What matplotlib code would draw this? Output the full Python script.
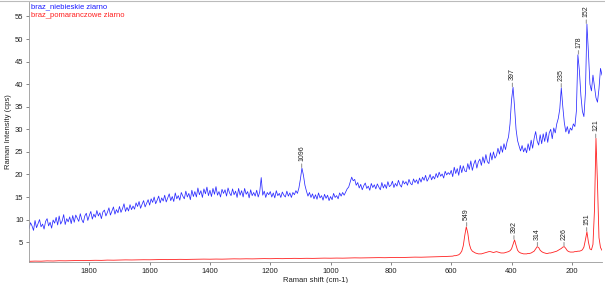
import numpy as np
import matplotlib
matplotlib.use("Agg")
import matplotlib.pyplot as plt

plt.rcParams['font.family'] = ['Liberation Sans', 'DejaVu Sans']

# ---------------- data ----------------
# blue spectrum, 2000 -> 605 cm-1, step 5
blue_x_coarse = np.arange(2000, 600, -5)
blue_y_coarse = [
    8.0, 9.3, 8.6, 7.6, 9.8, 8.2, 9.1, 10.0, 8.4, 9.0,
    7.9, 9.6, 10.2, 8.6, 9.4, 8.1, 9.9, 9.2, 10.5, 8.8,
    10.8, 9.0, 9.7, 11.1, 8.9, 10.2, 9.5, 10.6, 9.1, 10.9,
    9.4, 11.0, 10.3, 9.6, 11.3, 10.0, 9.3, 10.8, 11.4, 9.8,
    10.9, 11.8, 10.1, 11.2, 10.5, 12.0, 10.8, 11.5, 10.2, 11.7,
    12.1, 10.8, 11.6, 12.6, 11.0, 11.9, 12.8, 11.2, 12.2, 11.5,
    12.9, 11.6, 12.4, 13.5, 11.8, 12.7, 11.9, 13.3, 12.2, 13.0,
    12.3, 13.7, 12.9, 14.0, 12.5, 13.4, 14.2, 12.8, 13.6, 14.4,
    13.2, 14.6, 13.8, 15.0, 13.5, 14.3, 15.2, 13.7, 14.8, 14.1,
    15.4, 13.9, 14.8, 15.7, 14.2, 15.1, 14.0, 15.9, 14.6, 15.3,
    14.3, 16.0, 15.2, 14.6, 16.3, 15.0, 15.8, 14.4, 16.5, 15.1,
    16.2, 15.0, 17.0, 15.5, 16.4, 14.9, 16.8, 15.7, 17.2, 15.3,
    16.5, 15.1, 16.9, 15.6, 17.3, 15.4, 16.2, 15.0, 16.7, 15.8,
    16.6, 15.2, 17.0, 15.9, 15.3, 16.8, 15.5, 16.3, 14.9, 16.9,
    15.4, 16.4, 15.0, 16.9, 15.6, 16.2, 14.8, 16.6, 15.3, 16.0,
    15.2, 16.5, 15.0, 16.1, 19.3, 15.4, 16.3, 14.9, 16.0, 15.5,
    16.2, 15.0, 15.9, 14.8, 16.4, 15.3, 15.8, 14.9, 16.1, 15.4,
    15.0, 16.3, 15.2, 15.9, 14.9, 16.0, 15.5, 16.4, 15.8, 17.0,
    19.0, 21.4, 19.8, 17.6, 16.3, 15.2, 16.0, 14.9, 15.7, 14.6,
    15.5, 14.5, 15.9, 14.8, 15.3, 14.3, 15.6, 14.7, 15.4, 14.2,
    15.1, 14.4, 15.8, 14.9, 15.3, 14.6, 15.9, 15.2, 16.0, 15.4,
    16.1, 16.8, 17.2, 18.3, 19.4, 18.6, 18.9, 17.6, 18.2, 17.0,
    17.8, 16.6, 17.5, 18.1, 16.9, 17.4, 16.5, 18.0, 17.1, 17.7,
    16.8, 17.9, 17.2, 16.6, 18.2, 17.0, 17.8, 16.9, 18.4, 17.3,
    17.6, 18.5, 17.1, 18.0, 17.4, 18.7, 17.7, 17.2, 18.6, 17.9,
    18.4, 17.6, 18.9, 18.0, 17.7, 19.0, 18.2, 18.8, 17.9, 19.2,
    18.3, 19.4, 18.7, 19.8, 18.5, 19.1, 20.0, 18.8, 19.6, 19.0,
    20.2, 19.3, 20.5, 19.6, 20.1, 19.2, 20.7, 19.9, 20.4, 20.0,
]
# blue spectrum, 600 -> 100 cm-1, step 5
blue_x_fine = np.arange(600, 99, -5)
blue_y_fine = [
    20.9, 19.5, 21.6, 20.2, 21.3, 19.8, 22.0, 20.4, 21.9, 20.8,
    20.6, 22.4, 21.1, 23.0, 20.9, 22.3, 23.2, 21.4, 22.8, 23.4,
    22.0, 23.9, 22.5, 24.4, 22.8, 22.4, 24.8, 23.2, 25.0, 23.6,
    24.2, 25.8, 24.5, 26.3, 24.9, 26.8, 25.5, 27.2, 28.3, 31.2,
    36.5, 39.3, 35.0, 30.0, 27.5, 26.3, 25.2, 26.4, 25.0, 25.9,
    24.8, 26.8, 25.3, 27.6, 25.8, 28.0, 29.5, 27.4, 26.5, 28.8,
    26.8, 29.0, 27.3, 29.4, 27.1, 29.2, 30.0, 27.9, 30.3, 29.2,
    31.2, 32.4, 34.5, 39.2, 35.0, 31.5, 29.4, 30.6, 29.0, 30.3,
    29.8, 31.2, 30.6, 34.0, 46.5, 43.0, 37.5, 34.0, 32.8, 38.0,
    53.3, 47.0, 40.0, 38.5, 42.0, 39.5, 37.0, 36.0, 39.0, 43.5,
    42.0,
]

red_x_coarse = np.arange(2000, 600, -20)
red_y_coarse = [
    0.75, 0.80, 0.78, 0.85, 0.82, 0.88, 0.86, 0.90, 0.93, 0.91,
    0.95, 0.98, 0.96, 1.02, 1.00, 1.04, 1.07, 1.05, 1.08, 1.10,
    1.09, 1.12, 1.15, 1.13, 1.16, 1.19, 1.17, 1.20, 1.21, 1.24,
    1.22, 1.25, 1.23, 1.27, 1.30, 1.28, 1.31, 1.29, 1.32, 1.35,
    1.33, 1.36, 1.34, 1.38, 1.41, 1.39, 1.42, 1.40, 1.43, 1.46,
    1.44, 1.47, 1.45, 1.49, 1.52, 1.50, 1.53, 1.54, 1.57, 1.55,
    1.58, 1.62, 1.60, 1.64, 1.68, 1.66, 1.70, 1.74, 1.77, 1.82,
]
red_x_fine = np.arange(600, 99, -5)
red_y_fine = [
    1.9, 1.9, 2.0, 2.0, 2.1, 2.2, 2.5, 3.0, 4.2, 6.5,
    8.4, 7.0, 4.6, 3.5, 3.0, 2.8, 2.6, 2.5, 2.4, 2.4,
    2.4, 2.5, 2.6, 2.7, 2.8, 2.9, 2.9, 2.8, 2.7, 2.8,
    2.9, 2.8, 2.7, 2.6, 2.6, 2.6, 2.7, 2.8, 2.9, 3.1,
    3.5, 4.5, 5.5, 4.3, 3.2, 2.8, 2.6, 2.5, 2.4, 2.4,
    2.4, 2.5, 2.5, 2.6, 2.8, 3.0, 3.5, 4.0, 3.8, 3.2,
    2.9, 2.7, 2.6, 2.5, 2.5, 2.6, 2.6, 2.7, 2.8, 2.9,
    3.0, 3.2, 3.4, 3.6, 3.9, 4.0, 3.6, 3.1, 2.9, 2.8,
    2.8, 2.8, 2.9, 2.9, 3.0, 3.0, 3.1, 3.3, 3.9, 5.5,
    7.3, 5.0, 3.5, 3.3, 4.5, 12.0, 28.0, 18.0, 6.0, 3.8,
    3.2,
]

blue_peaks = [1096, 397, 235, 178, 152]
red_peaks = [549, 392, 314, 226, 151, 121]

blue_name = "braz_niebieskie ziarno"
red_name = "braz_pomaranczowe ziarno"

x_ticks = [200, 400, 600, 800, 1000, 1200, 1400, 1600, 1800]
y_ticks = [5, 10, 15, 20, 25, 30, 35, 40, 45, 50, 55]

blue_x = np.concatenate([blue_x_coarse, blue_x_fine])
blue_y = np.concatenate([blue_y_coarse, blue_y_fine])
red_x = np.concatenate([red_x_coarse, red_x_fine])
red_y = np.concatenate([red_y_coarse, red_y_fine])

# ---------------- figure ----------------
fig = plt.figure(figsize=(6.05, 2.83), dpi=100)
ax = fig.add_axes([29 / 605, 1 - 262 / 283, 573 / 605, 260 / 283])

ax.plot(blue_x, blue_y, color='#2a2aff', lw=0.55)
ax.plot(red_x, red_y, color='#ff2020', lw=0.6)

ax.set_xlim(2000, 100)
ax.set_ylim(0.6, 58.2)
ax.set_xticks(x_ticks)
ax.set_yticks(y_ticks)
ax.tick_params(axis='both', labelsize=5.5, length=2.5, width=0.5,
               color='#555555', labelcolor='#222222', pad=1.5)

for s in ['top', 'right']:
    ax.spines[s].set_visible(False)
for s in ['left', 'bottom']:
    ax.spines[s].set_color('#999999')
    ax.spines[s].set_linewidth(0.6)

ax.set_xlabel("Raman shift (cm-1)", fontsize=5.5, labelpad=1.5, color='#222222')
ax.set_ylabel("Raman Intensity (cps)", fontsize=5.5, labelpad=2, color='#222222')


def annotate_peaks(xs, ys, peaks):
    for p in peaks:
        mask = np.abs(xs - p) <= 6
        i = np.argmax(np.where(mask, ys, -np.inf))
        ax.annotate(str(p), xy=(p, ys[i]), xytext=(0, 5),
                    textcoords='offset points', rotation=90,
                    ha='center', va='bottom', fontsize=5, color='#222222',
                    arrowprops=dict(arrowstyle='-', color='#999999', lw=0.8,
                                    shrinkA=0, shrinkB=0.5))


annotate_peaks(blue_x, blue_y, blue_peaks)
annotate_peaks(red_x, red_y, red_peaks)

ax.text(0.003, 0.995, blue_name, transform=ax.transAxes, fontsize=5.5,
        color='#1a1aff', ha='left', va='top')
ax.text(0.003, 0.962, red_name, transform=ax.transAxes, fontsize=5.5,
        color='#ff2020', ha='left', va='top')

fig.add_artist(plt.Line2D([0, 1], [0.998, 0.998], color='#bbbbbb', lw=0.8,
                          transform=fig.transFigure))

fig.savefig("out.png", dpi=100)
